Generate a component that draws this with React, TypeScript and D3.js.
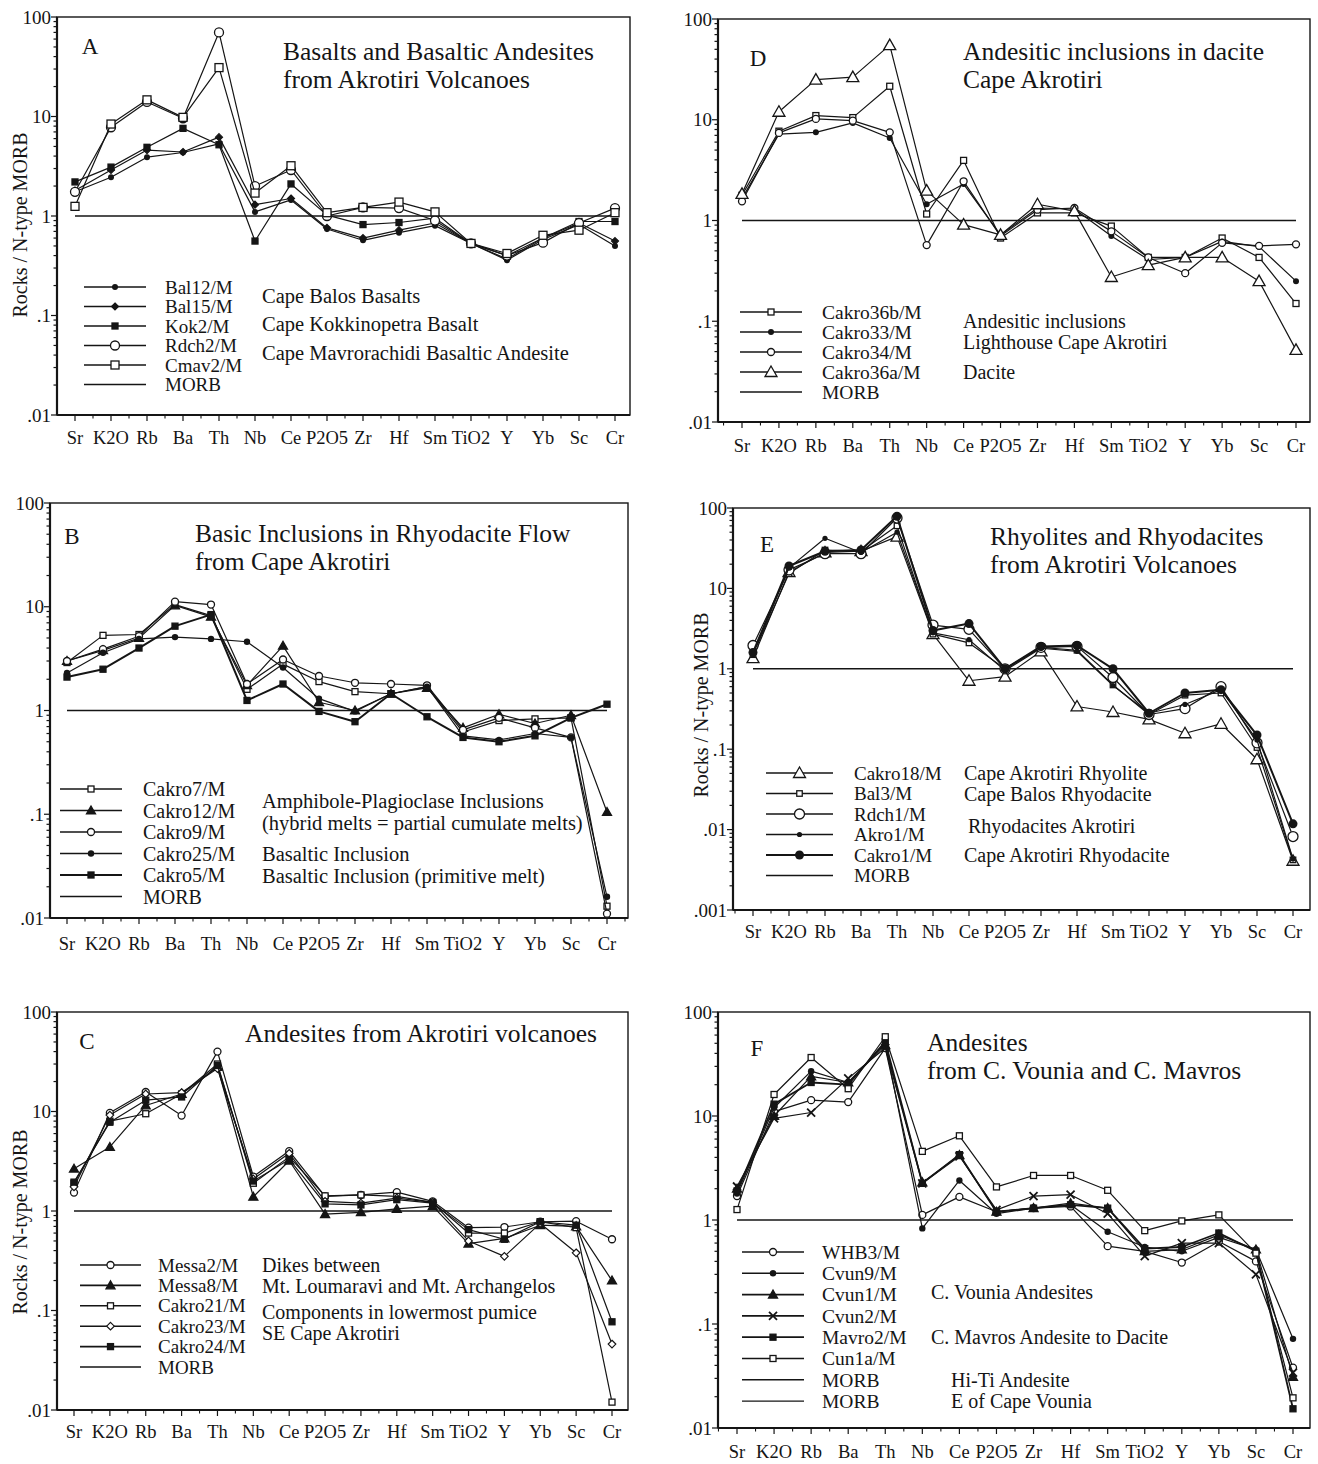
import { useEffect, useRef } from 'react'
import * as d3 from 'd3'

const elements = ['Sr', 'K2O', 'Rb', 'Ba', 'Th', 'Nb', 'Ce', 'P2O5', 'Zr', 'Hf', 'Sm', 'TiO2', 'Y', 'Yb', 'Sc', 'Cr']

// A - basalts and basaltic andesites
const bal12 = [1.75, 2.45, 3.9, 4.35, 5.3, 1.1, 1.45, 0.74, 0.57, 0.68, 0.8, 0.53, 0.36, 0.58, 0.82, 0.5]
const bal15 = [1.8, 2.9, 4.6, 4.4, 6.2, 1.3, 1.5, 0.76, 0.6, 0.72, 0.85, 0.53, 0.37, 0.6, 0.85, 0.56]
const kok2 = [2.2, 3.1, 4.9, 7.6, 5.2, 0.56, 2.1, 1.02, 0.82, 0.86, 0.95, 0.53, 0.4, 0.6, 0.88, 0.88]
const rdch2 = [1.75, 7.8, 14, 9.6, 70, 2.0, 2.9, 1.0, 1.22, 1.2, 0.9, 0.53, 0.4, 0.54, 0.85, 1.2]
const cmav2 = [1.25, 8.4, 14.7, 9.8, 31, 1.7, 3.2, 1.08, 1.22, 1.38, 1.1, 0.53, 0.42, 0.64, 0.72, 1.08]
const namesA = ['Bal12/M', 'Bal15/M', 'Kok2/M', 'Rdch2/M', 'Cmav2/M']
const notesA = ['Cape Balos Basalts', 'Cape Kokkinopetra Basalt', 'Cape Mavrorachidi Basaltic Andesite']
const titleA = ['Basalts and Basaltic Andesites', 'from Akrotiri Volcanoes']

// B - basic inclusions
const cakro7 = [2.9, 5.3, 5.4, 10.5, 8.2, 1.6, 2.8, 1.9, 1.52, 1.45, 1.7, 0.62, 0.8, 0.83, 0.85, 0.013]
const cakro12 = [3.0, 3.8, 5.0, 10.3, 8.0, 1.75, 4.2, 1.2, 1.0, 1.45, 1.65, 0.68, 0.92, 0.75, 0.9, 0.105]
const cakro9 = [3.0, 3.9, 5.2, 11.2, 10.5, 1.8, 3.1, 2.15, 1.85, 1.8, 1.75, 0.65, 0.85, 0.68, 0.55, 0.011]
const cakro25 = [2.3, 3.6, 4.9, 5.1, 4.9, 4.6, 2.6, 1.3, 0.98, 1.45, 1.7, 0.57, 0.52, 0.6, 0.55, 0.016]
const cakro5 = [2.1, 2.5, 4.0, 6.5, 8.4, 1.25, 1.8, 0.98, 0.78, 1.45, 0.87, 0.55, 0.5, 0.57, 0.85, 1.15]
const namesB = ['Cakro7/M', 'Cakro12/M', 'Cakro9/M', 'Cakro25/M', 'Cakro5/M']
const notesB = ['Amphibole-Plagioclase Inclusions', '(hybrid melts = partial cumulate melts)', 'Basaltic Inclusion', 'Basaltic Inclusion (primitive melt)']
const titleB = ['Basic Inclusions in Rhyodacite Flow', 'from Cape Akrotiri']

// C - andesites
const messa2 = [1.53, 9.7, 15.7, 9.1, 40, 2.22, 4.0, 1.4, 1.45, 1.55, 1.25, 0.68, 0.69, 0.78, 0.79, 0.52]
const messa8 = [2.66, 4.4, 11.5, 15, 28, 1.39, 3.2, 0.93, 0.97, 1.05, 1.12, 0.47, 0.53, 0.72, 0.7, 0.2]
const cakro21 = [1.9, 8.0, 9.5, 15, 30, 1.9, 3.5, 1.42, 1.45, 1.4, 1.22, 0.6, 0.6, 0.78, 0.68, 0.012]
const cakro23 = [1.75, 9.2, 15, 15.5, 27, 2.1, 3.8, 1.25, 1.2, 1.35, 1.22, 0.5, 0.35, 0.75, 0.38, 0.046]
const cakro24 = [1.95, 7.8, 13, 14, 29, 2.0, 3.3, 1.18, 1.15, 1.3, 1.2, 0.65, 0.52, 0.78, 0.72, 0.077]
const namesC = ['Messa2/M', 'Messa8/M', 'Cakro21/M', 'Cakro23/M', 'Cakro24/M']
const notesC = ['Dikes between', 'Mt. Loumaravi  and Mt. Archangelos', 'Components in lowermost pumice', 'SE Cape Akrotiri']
const titleC = ['Andesites from Akrotiri volcanoes']

// D - andesitic inclusions in dacite
const cakro36b = [1.78, 7.7, 11, 10.5, 21.5, 1.16, 3.95, 0.67, 1.19, 1.19, 0.88, 0.43, 0.43, 0.67, 0.43, 0.15]
const cakro33 = [1.65, 7.2, 7.5, 9.3, 6.6, 1.45, 2.3, 0.72, 1.33, 1.3, 0.7, 0.41, 0.43, 0.62, 0.55, 0.25]
const cakro34 = [1.55, 7.4, 10.2, 9.8, 7.5, 0.57, 2.45, 0.7, 1.28, 1.33, 0.78, 0.43, 0.3, 0.6, 0.56, 0.58]
const cakro36a = [1.84, 12, 25, 26.5, 55, 1.98, 0.91, 0.72, 1.45, 1.24, 0.275, 0.36, 0.43, 0.43, 0.25, 0.052]
const namesD = ['Cakro36b/M', 'Cakro33/M', 'Cakro34/M', 'Cakro36a/M']
const notesD = ['Andesitic inclusions', 'Lighthouse Cape Akrotiri', 'Dacite']
const titleD = ['Andesitic inclusions in dacite', 'Cape Akrotiri']

// E - rhyolites and rhyodacites
const cakro18 = [1.36, 16, 28, 29, 44, 2.7, 0.71, 0.8, 1.65, 0.34, 0.29, 0.235, 0.158, 0.207, 0.075, 0.0041]
const bal3 = [1.5, 15.3, 30, 29, 60, 2.7, 2.1, 1.0, 1.85, 1.7, 0.63, 0.27, 0.47, 0.5, 0.105, 0.0042]
const rdch1 = [1.95, 17, 27, 27, 75, 3.5, 3.1, 1.0, 1.85, 1.9, 0.78, 0.27, 0.32, 0.6, 0.12, 0.0082]
const akro1 = [1.5, 18, 42, 28, 50, 2.8, 2.3, 0.95, 1.8, 1.65, 0.62, 0.28, 0.36, 0.55, 0.13, 0.0043]
const cakro1 = [1.6, 19, 29, 30, 79, 3.0, 3.65, 1.0, 1.9, 1.95, 1.0, 0.28, 0.5, 0.55, 0.15, 0.0118]
const namesE = ['Cakro18/M', 'Bal3/M', 'Rdch1/M', 'Akro1/M', 'Cakro1/M']
const notesE = ['Cape Akrotiri Rhyolite', 'Cape Balos Rhyodacite', 'Rhyodacites Akrotiri', 'Cape Akrotiri Rhyodacite']
const titleE = ['Rhyolites and Rhyodacites', 'from Akrotiri Volcanoes']

// F - andesites from C. Vounia and C. Mavros
const whb3 = [1.7, 11, 14.2, 13.6, 45, 1.12, 1.67, 1.2, 1.3, 1.35, 0.56, 0.5, 0.39, 0.62, 0.4, 0.038]
const cvun9 = [1.8, 12, 27, 21, 50, 0.83, 2.4, 1.15, 1.3, 1.4, 0.77, 0.55, 0.5, 0.68, 0.52, 0.072]
const cvun1 = [2.0, 10, 24, 21, 48, 2.3, 4.2, 1.2, 1.3, 1.45, 1.3, 0.5, 0.52, 0.72, 0.52, 0.031]
const cvun2 = [2.1, 9.5, 10.8, 23, 45, 2.25, 4.1, 1.25, 1.7, 1.75, 1.15, 0.45, 0.6, 0.6, 0.3, 0.034]
const mavro2 = [1.9, 13, 21, 20, 52, 2.25, 4.25, 1.2, 1.3, 1.4, 1.3, 0.53, 0.55, 0.75, 0.5, 0.0153]
const cun1a = [1.26, 16.1, 36.5, 18.3, 57.8, 4.57, 6.45, 2.08, 2.68, 2.68, 1.93, 0.79, 0.98, 1.12, 0.48, 0.0195]
const namesF = ['WHB3/M', 'Cvun9/M', 'Cvun1/M', 'Cvun2/M', 'Mavro2/M', 'Cun1a/M']
const notesF = ['C. Vounia Andesites', 'C. Mavros Andesite to Dacite', 'Hi-Ti Andesite', 'E of Cape Vounia']
const titleF = ['Andesites', 'from C. Vounia and C. Mavros']

const morbLabel = 'MORB'
const yTitle = 'Rocks / N-type MORB'

const FONT = "'Liberation Serif', 'Times New Roman', serif"
const ink = '#151515'

const panels: any[] = [
  {
    letter: 'A', left: 57, right: 630, top: 17, bottom: 415, x0: 75, x1: 615, ymin: 0.01, xlabY: 438,
    letterAt: [90, 46], title: titleA, titleX: 283, titleY: 51, yTitleAt: [20, 225],
    series: [
      { v: bal12, shape: 'dot', size: 3 },
      { v: bal15, shape: 'diamond', size: 3.5 },
      { v: kok2, shape: 'sqfill', size: 6 },
      { v: rdch2, shape: 'circle', size: 4.5 },
      { v: cmav2, shape: 'square', size: 8 },
    ],
    names: namesA, morbRows: 1, lx0: 84, lx1: 146, nameX: 165, ly0: 287, ldy: 19.5, fs: 19, nfs: 20.5,
    notes: notesA, noteX: [262, 262, 262], noteY: [296, 324, 353],
  },
  {
    letter: 'D', left: 718, right: 1310, top: 19, bottom: 422, x0: 742, x1: 1296, ymin: 0.01, xlabY: 446,
    letterAt: [758, 58], title: titleD, titleX: 963, titleY: 51,
    series: [
      { v: cakro36b, shape: 'square', size: 6 },
      { v: cakro33, shape: 'dot', size: 3 },
      { v: cakro34, shape: 'circle', size: 3.5 },
      { v: cakro36a, shape: 'tri', size: 6 },
    ],
    names: namesD, morbRows: 1, lx0: 740, lx1: 802, nameX: 822, ly0: 312, ldy: 20, fs: 19.5, nfs: 20,
    notes: notesD, noteX: [963, 963, 963], noteY: [321, 342, 372],
  },
  {
    letter: 'B', left: 50, right: 628, top: 503, bottom: 918, x0: 67, x1: 607, ymin: 0.01, xlabY: 944,
    letterAt: [72, 536], title: titleB, titleX: 195, titleY: 533,
    series: [
      { v: cakro7, shape: 'square', size: 6 },
      { v: cakro12, shape: 'trifill', size: 4.5 },
      { v: cakro9, shape: 'circle', size: 3.5 },
      { v: cakro25, shape: 'dot', size: 3.2 },
      { v: cakro5, shape: 'sqfill', size: 6, lw: 2 },
    ],
    names: namesB, morbRows: 1, lx0: 60, lx1: 122, nameX: 143, ly0: 789, ldy: 21.5, fs: 20, nfs: 20.5,
    notes: notesB, noteX: [262, 262, 262, 262], noteY: [801, 823, 854, 876],
  },
  {
    letter: 'E', left: 733, right: 1310, top: 508, bottom: 910, x0: 753, x1: 1293, ymin: 0.001, xlabY: 932,
    letterAt: [767, 544], title: titleE, titleX: 990, titleY: 536, yTitleAt: [701, 705],
    series: [
      { v: cakro18, shape: 'tri', size: 6 },
      { v: bal3, shape: 'square', size: 5.5 },
      { v: rdch1, shape: 'circle', size: 5 },
      { v: akro1, shape: 'dot', size: 2.6 },
      { v: cakro1, shape: 'dot', size: 4.5, lw: 2 },
    ],
    names: namesE, morbRows: 1, lx0: 766, lx1: 833, nameX: 854, ly0: 773, ldy: 20.5, fs: 19, nfs: 20,
    notes: notesE, noteX: [964, 964, 968, 964], noteY: [773, 794, 826, 855],
  },
  {
    letter: 'C', left: 57, right: 628, top: 1012, bottom: 1410, x0: 74, x1: 612, ymin: 0.01, xlabY: 1432,
    letterAt: [87, 1041], title: titleC, titleX: 245, titleY: 1033, yTitleAt: [20, 1222],
    series: [
      { v: messa2, shape: 'circle', size: 3.5 },
      { v: messa8, shape: 'trifill', size: 4.5 },
      { v: cakro21, shape: 'square', size: 6 },
      { v: cakro23, shape: 'diamondOpen', size: 3.8 },
      { v: cakro24, shape: 'sqfill', size: 6 },
    ],
    names: namesC, morbRows: 1, lx0: 80, lx1: 141, nameX: 158, ly0: 1265, ldy: 20.4, fs: 19, nfs: 20,
    notes: notesC, noteX: [262, 262, 262, 262], noteY: [1265, 1286, 1312, 1333],
  },
  {
    letter: 'F', left: 718, right: 1310, top: 1012, bottom: 1428, x0: 737, x1: 1293, ymin: 0.01, xlabY: 1452,
    letterAt: [757, 1048], title: titleF, titleX: 927, titleY: 1042,
    series: [
      { v: whb3, shape: 'circle', size: 3.5 },
      { v: cvun9, shape: 'dot', size: 3.2 },
      { v: cvun1, shape: 'trifill', size: 4.5 },
      { v: cvun2, shape: 'cross', size: 4 },
      { v: mavro2, shape: 'sqfill', size: 6, lw: 1.8 },
      { v: cun1a, shape: 'square', size: 6 },
    ],
    names: namesF, morbRows: 2, lx0: 742, lx1: 804, nameX: 822, ly0: 1252, ldy: 21.3, fs: 19.5, nfs: 20,
    notes: notesF, noteX: [931, 931, 951, 951], noteY: [1292, 1337, 1380, 1401],
  },
]

function marker(g: any, shape: string, cx: number, cy: number, s: number) {
  if (shape === 'dot') {
    g.append('circle').attr('cx', cx).attr('cy', cy).attr('r', s).attr('fill', ink)
  } else if (shape === 'circle') {
    g.append('circle').attr('cx', cx).attr('cy', cy).attr('r', s).attr('fill', '#fff').attr('stroke', ink).attr('stroke-width', 1.3)
  } else if (shape === 'square' || shape === 'sqfill') {
    g.append('rect')
      .attr('x', cx - s / 2).attr('y', cy - s / 2).attr('width', s).attr('height', s)
      .attr('fill', shape === 'sqfill' ? ink : '#fff').attr('stroke', ink).attr('stroke-width', 1.3)
  } else if (shape === 'diamond' || shape === 'diamondOpen') {
    g.append('path')
      .attr('d', `M${cx},${cy - s}L${cx + s},${cy}L${cx},${cy + s}L${cx - s},${cy}Z`)
      .attr('fill', shape === 'diamond' ? ink : '#fff').attr('stroke', ink).attr('stroke-width', 1.2)
  } else if (shape === 'tri' || shape === 'trifill') {
    g.append('path')
      .attr('d', `M${cx},${cy - s}L${cx + s},${cy + s * 0.75}L${cx - s},${cy + s * 0.75}Z`)
      .attr('fill', shape === 'trifill' ? ink : '#fff').attr('stroke', ink).attr('stroke-width', 1.3)
  } else if (shape === 'cross') {
    g.append('path')
      .attr('d', `M${cx - s},${cy - s}L${cx + s},${cy + s}M${cx + s},${cy - s}L${cx - s},${cy + s}`)
      .attr('stroke', ink).attr('stroke-width', 1.8)
  }
}

const fmtTick = (v: number) => (v >= 1 ? String(v) : String(v).replace('0.', '.'))

function drawPanel(svg: any, p: any) {
  const g = svg.append('g')
  const x = d3.scalePoint<string>().domain(elements).range([p.x0, p.x1])
  const y = d3.scaleLog().domain([p.ymin, 100]).range([p.bottom, p.top])

  // frame
  g.append('rect')
    .attr('x', p.left).attr('y', p.top).attr('width', p.right - p.left).attr('height', p.bottom - p.top)
    .attr('fill', 'none').attr('stroke', ink).attr('stroke-width', 1.4)
  g.append('line').attr('x1', p.left).attr('x2', p.left).attr('y1', p.top).attr('y2', p.bottom).attr('stroke', ink).attr('stroke-width', 2.2)
  g.append('line').attr('x1', p.left).attr('x2', p.right).attr('y1', p.bottom).attr('y2', p.bottom).attr('stroke', ink).attr('stroke-width', 2.2)

  // y ticks, major decades labelled
  y.ticks().forEach((t: number) => {
    const major = Math.abs(Math.log10(t) - Math.round(Math.log10(t))) < 1e-6
    g.append('line')
      .attr('x1', p.left - (major ? 6 : 3.5)).attr('x2', p.left)
      .attr('y1', y(t)).attr('y2', y(t))
      .attr('stroke', ink).attr('stroke-width', 1.2)
    if (major) {
      g.append('text')
        .attr('x', p.left - 6).attr('y', y(t)).attr('dy', '0.35em')
        .attr('text-anchor', 'end').attr('font-size', 19).attr('fill', ink)
        .text(fmtTick(t))
    }
  })

  // x ticks at elements and between them
  const step = x.step()
  elements.forEach(e => {
    const xe = x(e) as number
    g.append('line').attr('x1', xe).attr('x2', xe).attr('y1', p.bottom).attr('y2', p.bottom + 6).attr('stroke', ink).attr('stroke-width', 1.2)
    g.append('text')
      .attr('x', xe).attr('y', p.xlabY).attr('dy', '0.35em')
      .attr('text-anchor', 'middle').attr('font-size', 18.5).attr('fill', ink)
      .text(e)
  })
  d3.range(-1, elements.length).forEach(i => {
    const xm = p.x0 + (i + 0.5) * step
    if (xm > p.left && xm < p.right) {
      g.append('line').attr('x1', xm).attr('x2', xm).attr('y1', p.bottom).attr('y2', p.bottom + 3.5).attr('stroke', ink).attr('stroke-width', 1.1)
    }
  })

  // MORB reference
  g.append('line').attr('x1', p.x0).attr('x2', p.x1).attr('y1', y(1)).attr('y2', y(1)).attr('stroke', ink).attr('stroke-width', 1.6)

  // series
  const line = d3.line<number>().x((_, i) => x(elements[i]) as number).y(d => y(d))
  p.series.forEach((s: any) => {
    g.append('path').attr('d', line(s.v)).attr('fill', 'none').attr('stroke', ink).attr('stroke-width', s.lw ?? 1.2).attr('stroke-linejoin', 'round')
    s.v.forEach((v: number, i: number) => marker(g, s.shape, x(elements[i]) as number, y(v), s.size))
  })

  // panel letter and title
  g.append('text').attr('x', p.letterAt[0]).attr('y', p.letterAt[1]).attr('dy', '0.35em').attr('text-anchor', 'middle')
    .attr('font-size', 23).attr('fill', ink).text(p.letter)
  p.title.forEach((t: string, i: number) => {
    g.append('text').attr('x', p.titleX).attr('y', p.titleY + i * 28.5).attr('dy', '0.35em')
      .attr('font-size', 25.5).attr('fill', ink).text(t)
  })

  if (p.yTitleAt) {
    g.append('text')
      .attr('transform', `translate(${p.yTitleAt[0]},${p.yTitleAt[1]}) rotate(-90)`)
      .attr('text-anchor', 'middle').attr('dy', '0.35em').attr('font-size', 20).attr('fill', ink)
      .text(yTitle)
  }

  // legend
  const rows = [...p.series.map((s: any, i: number) => ({ s, name: p.names[i] }))]
  for (let k = 0; k < p.morbRows; k++) rows.push({ s: null, name: morbLabel })
  rows.forEach((r: any, i: number) => {
    const ly = p.ly0 + i * p.ldy
    g.append('line').attr('x1', p.lx0).attr('x2', p.lx1).attr('y1', ly).attr('y2', ly)
      .attr('stroke', ink).attr('stroke-width', r.s ? (r.s.lw ?? 1.6) : (i === rows.length - 1 && p.morbRows > 1 ? 1.1 : 1.6))
    if (r.s) marker(g, r.s.shape, (p.lx0 + p.lx1) / 2, ly, r.s.size)
    g.append('text').attr('x', p.nameX).attr('y', ly).attr('dy', '0.35em').attr('font-size', p.fs).attr('fill', ink).text(r.name)
  })
  p.notes.forEach((t: string, i: number) => {
    g.append('text').attr('x', p.noteX[i]).attr('y', p.noteY[i]).attr('dy', '0.35em').attr('font-size', p.nfs).attr('fill', ink).text(t)
  })
}

export default function App() {
  const ref = useRef<SVGSVGElement>(null)

  useEffect(() => {
    const svg = d3.select(ref.current)
    svg.selectAll('*').remove()
    svg.append('rect').attr('width', 1318).attr('height', 1464).attr('fill', '#fff')
    panels.forEach(p => drawPanel(svg, p))
  }, [])

  return (
    <svg
      ref={ref}
      width={1318}
      height={1464}
      style={{ position: 'absolute', left: 0, top: 0, fontFamily: FONT }}
    />
  )
}
